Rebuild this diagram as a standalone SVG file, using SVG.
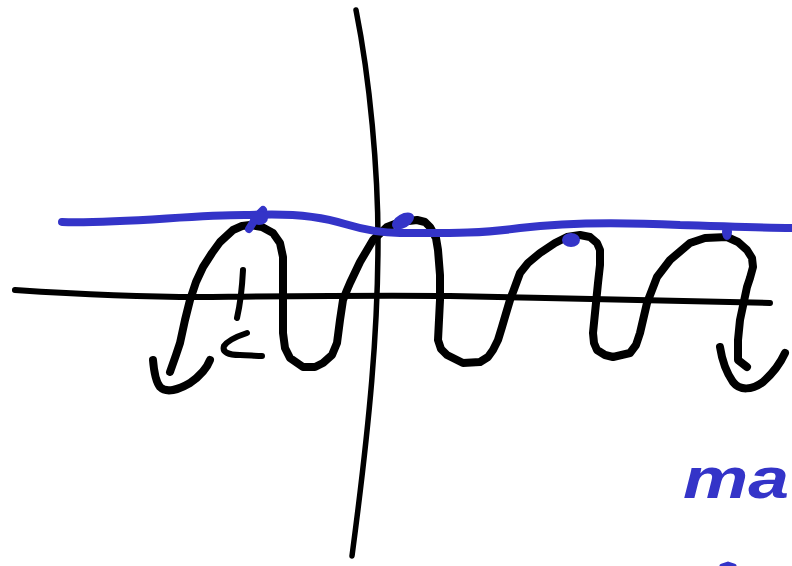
<svg xmlns="http://www.w3.org/2000/svg" width="792" height="566" viewBox="0 0 792 566">
<style>
.k{fill:none;stroke:#000;stroke-linecap:round;stroke-linejoin:round}
.b{fill:none;stroke:#3434c8;stroke-linecap:round;stroke-linejoin:round}
.bf{fill:#3434c8}
</style>
<rect width="792" height="566" fill="#fff"/>
<g id="axes">
<path class="k" stroke-width="5.5" d="M356,10 C370,80 378,170 378,240 C378,330 370,420 352,556"/>
<path class="k" stroke-width="6" d="M15,290 C60,293 120,297 200,297 C300,296 380,295 450,296 C560,298 680,301 770,303"/>
</g>
<g id="wave">
<path class="k" stroke-width="8" d="M170,372 L176,355 180,343 185,320 190,300 196,282 203,267 212,253 220,242 233,230 242,226 250,225 262,227 273,233 280,243 283,257 283,300 283,333 285,348 290,358 303,367 315,367 323,363 332,355 337,343 340,320 343,300 347,290 350,283 360,262 373,240 387,227 400,222 417,220 425,222 430,227 436,238 438,250 440,275 440,300 438,340 441,349 447,355 463,363 480,362 488,357 493,350 498,340 502,327 510,300 520,273 528,263 540,253 555,243 567,237 580,235 590,237 597,243 600,250 600,265 598,283 593,333 594,343 597,350 605,355 613,357 630,353 636,345 640,333 647,303 657,277 670,260 690,243 705,238 727,237 738,242 747,250 752,258 753,267 750,278 747,287 740,320 738,340 738,360 747,367"/>
<path class="k" stroke-width="8" d="M153,360 C154,372 156,382 160,387 C166,393 178,390 190,383 C200,376 207,368 210,360"/>
<path class="k" stroke-width="8" d="M720,347 C722,360 726,372 733,382 C740,391 752,390 763,382 C772,374 780,364 785,353"/>
<path class="k" stroke-width="6" d="M243,270 C242,290 240,305 237,318"/>
<path class="k" stroke-width="6" d="M247,333 C238,336 228,340 224,346 C222,352 228,355 240,355 C248,355 255,356 262,356"/>
</g>
<g id="level">
<path class="b" stroke-width="8" d="M62,222 C120,224 200,214 250,215 C290,213 320,216 345,224 C365,230 380,233 400,233 C440,233 480,234 520,228 C560,223 620,222 680,225 C720,226 760,228 792,228"/>
<path class="b" stroke-width="8" d="M249,229 L257,216 L263,210"/>
<ellipse class="bf" cx="259" cy="218" rx="9" ry="7"/>
<ellipse class="bf" cx="403" cy="221" rx="12" ry="7" transform="rotate(-30 403 221)"/>
<ellipse class="bf" cx="571" cy="240" rx="9" ry="7"/>
<ellipse class="bf" cx="727" cy="232" rx="5" ry="8"/>
</g>
<g id="note">
<text x="683" y="498" font-family="Liberation Sans, sans-serif" font-size="58" font-weight="bold" font-style="italic" fill="#3434c8" textLength="106" lengthAdjust="spacingAndGlyphs">ma</text>
<path class="b" stroke-width="5" d="M722,566 L728,564 L734,566"/>
</g>
</svg>
